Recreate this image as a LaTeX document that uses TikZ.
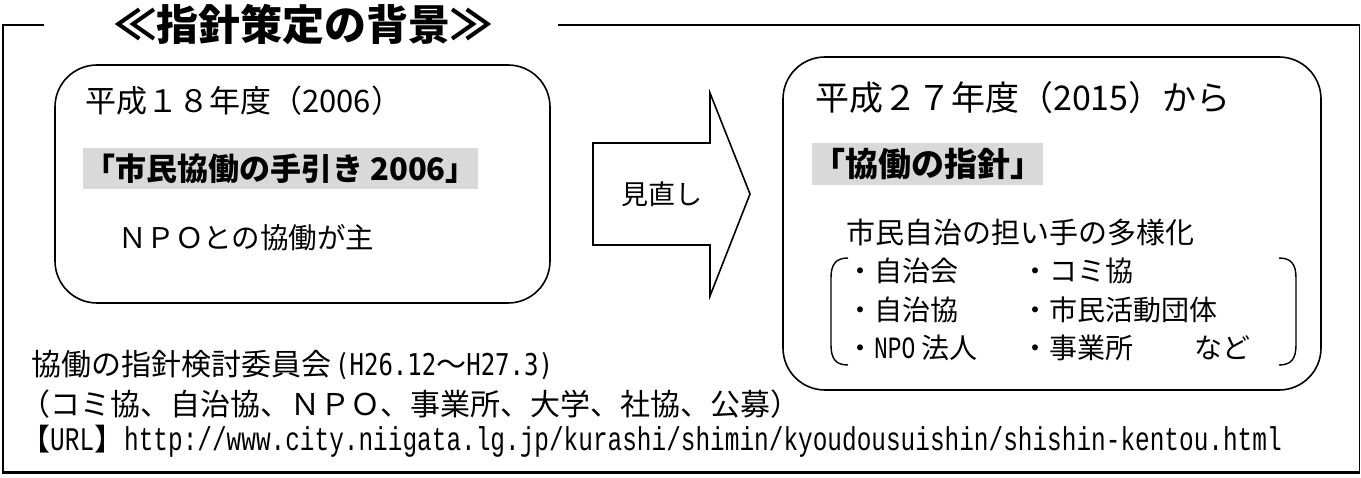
\documentclass[tikz,border=0pt]{standalone}
\usepackage{fontspec}
\newfontfamily\jp{Noto Sans CJK JP}
\newfontfamily\hw[FakeStretch=0.74]{Liberation Mono}
\newfontfamily\hwsans[FakeStretch=0.8]{DejaVu Sans Mono}
\newcommand\fsz[1]{\fontsize{#1}{#1}\selectfont}
\begin{document}
\begin{tikzpicture}[x=1pt,y=-1pt,
  frameline/.style={line width=2.2pt},
  rbox/.style={draw, line width=1.6pt, rounded corners=42pt, inner sep=0pt},
  txt/.style={inner sep=0pt, anchor=west},
  hlbox/.style={fill=black!15, inner sep=0pt},
  brk/.style={line width=1.4pt},
  item/.style={txt, font=\jp\fsz{28}}]
\useasboundingbox (0,0) rectangle (1361,478);
% outer frame
\draw[frameline] (44,25) -- (3,25) -- (3,472.5);
\draw[line width=3pt] (2,472.5) -- (1360,472.5);
\draw[line width=1.6pt] (1359.5,472.5) -- (1359.5,25);
\draw[frameline] (1360.3,25) -- (558,25);
\node[inner sep=0pt, font=\jp\bfseries\fsz{42}] (title) at (303,25) {≪指針策定の背景≫};
% left box
\node[rbox, minimum width=495pt, minimum height=238pt] (lbox) at (302.5,184) {};
\node[txt, font=\jp\fsz{31}] (lyear) at (85,101) {平成１８年度（2006）};
\node[hlbox, font=\jp\bfseries\fsz{31}, minimum width=395pt, minimum height=41pt] (lhl) at (280.5,168.5) {「市民協働の手引き 2006」};
\node[txt, font=\jp\fsz{28.5}] (lnpo) at (118,238) {ＮＰＯとの協働が主};
% block arrow
\draw[line width=1.6pt, line join=miter] (593,143) -- (710,143) -- (710,93) -- (750,194) -- (710,296) -- (710,245) -- (593,245) -- cycle;
\node[inner sep=0pt, font=\jp\fsz{27}] (rev) at (662,194) {見直し};
% right box
\node[rbox, minimum width=538pt, minimum height=333pt] (rbx) at (1052,223.5) {};
\node[txt, font=\jp\fsz{34}] (ryear) at (815,98) {平成２７年度（2015）から};
\node[hlbox, font=\jp\bfseries\fsz{33}, minimum width=227pt, minimum height=42pt] (rhl) at (927.5,164) {「協働の指針」};
\node[txt, font=\jp\fsz{29}] (rhead) at (846,232) {市民自治の担い手の多様化};
\node[item] (i1) at (846,271) {・自治会};
\node[item] (i2) at (1021,271) {・コミ協};
\node[item] (i3) at (846,310) {・自治協};
\node[item] (i4) at (1021,310) {・市民活動団体};
\node[item] (i5) at (846,348) {・{\hw\fsz{31}NPO} 法人};
\node[item] (i6) at (1021,348) {・事業所};
\node[item] (i7) at (1194,348) {など};
\draw[brk] (848,258) .. controls (836,258) and (831,264) .. (831,278) -- (831,345) .. controls (831,359) and (836,365) .. (848,365);
\draw[brk] (1279,258) .. controls (1291,258) and (1296,264) .. (1296,278) -- (1296,345) .. controls (1296,359) and (1291,365) .. (1279,365);
% bottom texts
\node[txt, font=\jp\fsz{30}] (comm) at (31,365) {協働の指針検討委員会\hspace{4pt}{\hwsans\fsz{30}(H26.12}〜{\hwsans\fsz{30}H27.3)}};
\node[txt, font=\jp\fsz{30}] (members) at (20,404) {（コミ協、自治協、ＮＰＯ、事業所、大学、社協、公募）};
\node[txt, font=\jp\fsz{30}] (url) at (20,441) {【{\hw\fsz{33}URL}】{\hw\fsz{33}http://www.city.niigata.lg.jp/kurashi/shimin/kyoudousuishin/shishin-kentou.html}};
\end{tikzpicture}
\end{document}
